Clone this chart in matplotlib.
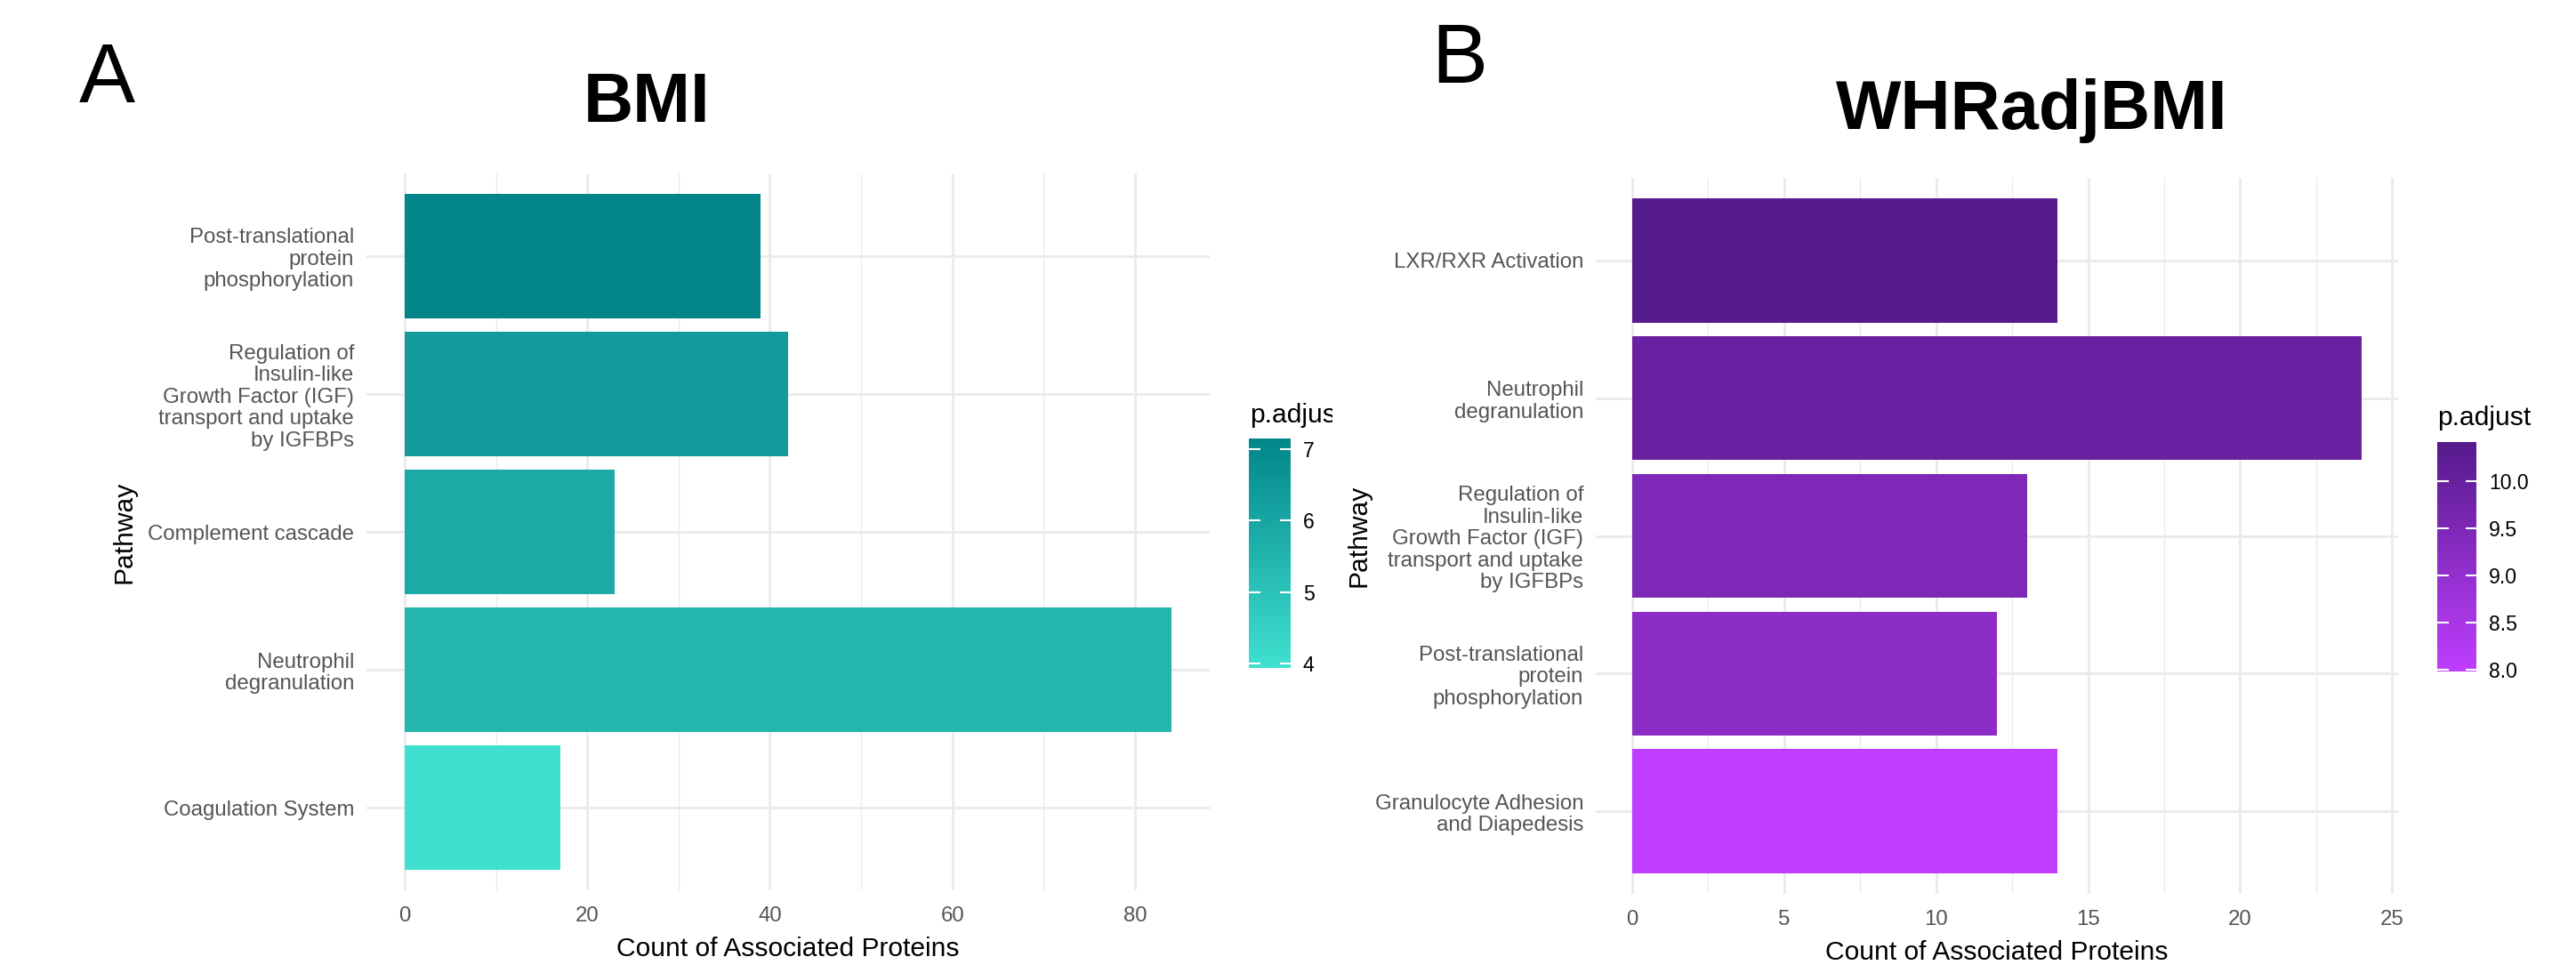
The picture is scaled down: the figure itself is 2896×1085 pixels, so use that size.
import matplotlib
matplotlib.use("Agg")
import matplotlib.pyplot as plt
import numpy as np
from matplotlib.colors import LinearSegmentedColormap, Normalize
from matplotlib.cm import ScalarMappable
from matplotlib.transforms import Bbox, TransformedBbox

plt.rcParams['font.family'] = ['Liberation Sans', 'DejaVu Sans']

# ---- data (top row first) ----
bmi_pathways = ["Post-translational\nprotein\nphosphorylation",
                "Regulation of\nInsulin-like\nGrowth Factor (IGF)\ntransport and uptake\nby IGFBPs",
                "Complement cascade",
                "Neutrophil\ndegranulation",
                "Coagulation System"]
bmi_counts = [39, 42, 23, 84, 17]
bmi_padj = [7.15, 6.35, 5.87, 5.45, 3.94]
bmi_ticks = [0, 20, 40, 60, 80]
bmi_cbar_ticks = [4, 5, 6, 7]

whr_pathways = ["LXR/RXR Activation",
                "Neutrophil\ndegranulation",
                "Regulation of\nInsulin-like\nGrowth Factor (IGF)\ntransport and uptake\nby IGFBPs",
                "Post-translational\nprotein\nphosphorylation",
                "Granulocyte Adhesion\nand Diapedesis"]
whr_counts = [14, 24, 13, 12, 14]
whr_padj = [10.41, 9.95, 9.47, 9.13, 7.98]
whr_ticks = [0, 5, 10, 15, 20, 25]
whr_cbar_ticks = [8.0, 8.5, 9.0, 9.5, 10.0]

W, H = 2896, 1085
fig = plt.figure(figsize=(W / 100, H / 100), dpi=100)


def px_rect(left, top, right, bottom):
    # pixel box (from top-left) -> figure fraction rect
    return [left / W, 1 - bottom / H, (right - left) / W, (bottom - top) / H]


def draw_panel(rect, cbar_rect, pathways, counts, padj, cmap, ticks, minor,
               cbar_ticks, cbar_fmt, ylab_x):
    ax = fig.add_axes(rect)
    norm = Normalize(min(padj), max(padj))
    n = len(pathways)
    y = np.arange(n)
    ax.barh(y, counts, height=0.9, color=cmap(norm(padj)), zorder=2)
    top = max(counts)
    ax.set_xlim(-0.05 * top, 1.05 * top)
    ax.set_ylim(n - 0.4, -0.6)
    ax.set_yticks(y)
    ax.set_yticklabels(pathways, linespacing=1.15)
    ax.set_xticks(ticks)
    ax.set_xticks(minor, minor=True)
    ax.grid(which='major', color='#EBEBEB', lw=2.1, zorder=0)
    ax.grid(which='minor', axis='x', color='#EBEBEB', lw=1.0, zorder=0)
    ax.set_axisbelow(True)
    for s in ax.spines.values():
        s.set_visible(False)
    ax.tick_params(axis='both', which='both', length=0, labelsize=17.3,
                   labelcolor='#555555')
    ax.tick_params(axis='y', pad=10)
    ax.tick_params(axis='x', pad=13)
    ax.set_xlabel("Count of Associated Proteins", fontsize=21.6, va='baseline')
    ax.xaxis.set_label_coords(0.5, -0.092)
    ax.set_ylabel("Pathway", fontsize=21.6, va='center')
    ax.yaxis.set_label_coords(ylab_x, 0.5)

    cax = fig.add_axes(cbar_rect)
    cb = fig.colorbar(ScalarMappable(norm=norm, cmap=cmap), cax=cax)
    cb.outline.set_visible(False)
    cb.set_ticks(cbar_ticks)
    cb.set_ticklabels([cbar_fmt.format(t) for t in cbar_ticks])
    cax.tick_params(direction='in', length=9, width=1.5, color='white',
                    left=True, right=True, labelleft=False, labelright=True,
                    labelsize=16.6, pad=10)
    return ax


teal = LinearSegmentedColormap.from_list('teal', ['#40E0D0', '#02868A'])
purple = LinearSegmentedColormap.from_list('purple', ['#BF3EFF', '#551A8B'])

draw_panel(px_rect(412, 195, 1360, 1001), px_rect(1404, 493, 1451, 751),
           bmi_pathways, bmi_counts, bmi_padj, teal, bmi_ticks,
           [10, 30, 50, 70], bmi_cbar_ticks, "{:.0f}", -0.287)
draw_panel(px_rect(1794, 200, 2696, 1005), px_rect(2740, 497, 2784, 755),
           whr_pathways, whr_counts, whr_padj, purple, whr_ticks,
           [2.5, 7.5, 12.5, 17.5, 22.5], whr_cbar_ticks, "{:.1f}", -0.296)

# legend titles (panel A's is cut off by the panel edge)
t = fig.text(1405 / W, 1 - 475 / H, "p.adjust", fontsize=21.6, va='baseline',
             clip_on=True)
t.set_clip_box(TransformedBbox(Bbox([[0, 0], [1498 / W, 1]]), fig.transFigure))
fig.text(2740 / W, 1 - 478 / H, "p.adjust", fontsize=21.6, va='baseline')

# titles and panel letters
fig.text(727 / W, 1 - 137 / H, "BMI", fontsize=56, fontweight='bold',
         ha='center', va='baseline')
fig.text(2284 / W, 1 - 145 / H, "WHRadjBMI", fontsize=56, fontweight='bold',
         ha='center', va='baseline')
fig.text(120 / W, 1 - 115 / H, "A", fontsize=68, ha='center', va='baseline')
fig.text(1641 / W, 1 - 93 / H, "B", fontsize=68, ha='center', va='baseline')

fig.savefig("out.png", dpi=100, facecolor='white')
